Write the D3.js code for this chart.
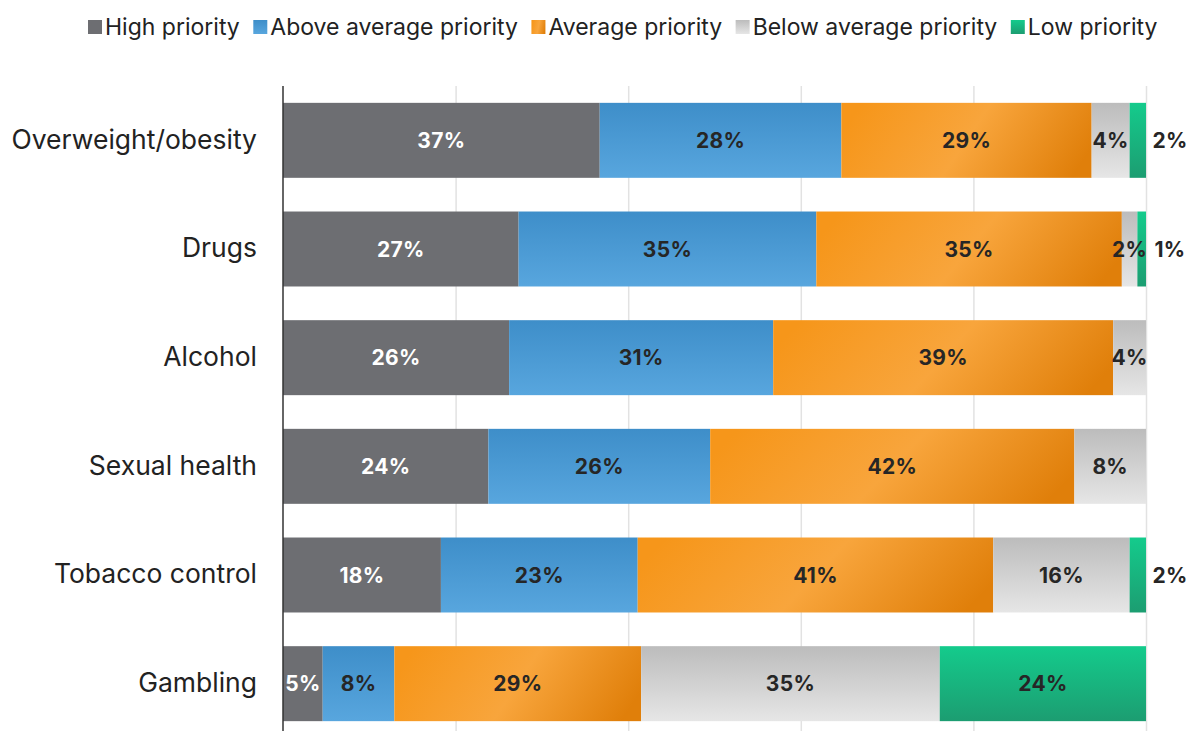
<!DOCTYPE html>
<html><head><meta charset="utf-8">
<script src="https://cdn.jsdelivr.net/npm/d3@7"></script>
<style>body{margin:0;background:#fff;font-family:Inter,"Noto Sans",sans-serif;}</style>
</head><body><svg id="c" width="1189" height="731"></svg>
<script>
const categories = ["Overweight/obesity","Drugs","Alcohol","Sexual health","Tobacco control","Gambling"];
const seriesNames = ["High priority","Above average priority","Average priority","Below average priority","Low priority"];
const highPriority = [36.7, 27.3, 26.2, 23.8, 18.3, 4.6];
const aboveAverage = [28.0, 34.5, 30.6, 25.7, 22.8, 8.3];
const averagePriority = [29.0, 35.4, 39.4, 42.2, 41.2, 28.6];
const belowAverage = [4.4, 1.8, 3.8, 8.3, 15.8, 34.6];
const lowPriority = [1.9, 1.0, 0, 0, 1.9, 23.9];
const xTicks = [0,20,40,60,80,100];

(function(){
const seriesValues = [highPriority, aboveAverage, averagePriority, belowAverage, lowPriority];
const svg = d3.select("#c");
const defs = svg.append("defs");
function lin(id, x1,y1,x2,y2, stops){
  const g = defs.append("linearGradient").attr("id",id).attr("x1",x1).attr("y1",y1).attr("x2",x2).attr("y2",y2);
  stops.forEach(s=>g.append("stop").attr("offset",s[0]).attr("stop-color",s[1]));
}
lin("gGray","0","0","0","1",[[0,"#6d6e72"],[1,"#6d6e72"]]);
lin("gBlue","0","0","0","1",[[0,"#3e8ec9"],[1,"#58a6de"]]);
lin("gOrange","0","0.4","1","0.6",[[0,"#f6961a"],[0.5,"#f8a53c"],[1,"#e07f0a"]]);
lin("gLight","0","0","0","1",[[0,"#bcbcbc"],[1,"#e6e6e6"]]);
lin("gGreen","0","0","0","1",[[0,"#14cb8c"],[1,"#1c9d71"]]);
const fills = ["url(#gGray)","url(#gBlue)","url(#gOrange)","url(#gLight)","url(#gGreen)"];

const mLeft = 283, mRight = 1146, mTop = 86, mBottom = 738;
const x = d3.scaleLinear().domain([0,100]).range([mLeft,mRight]);
const y = d3.scaleBand().domain(categories).range([mTop,mBottom]).paddingInner(0.31).paddingOuter(0.155);

svg.append("g").selectAll("line").data(xTicks.slice(1)).join("line")
  .attr("x1",d=>x(d)+0.5).attr("x2",d=>x(d)+0.5).attr("y1",86).attr("y2",731)
  .attr("stroke","#e2e2e2").attr("stroke-width",1.5);

const data = categories.map((c,i)=>{
  const o = {cat:c};
  seriesNames.forEach((s,j)=>o[s]=seriesValues[j][i]);
  return o;
});
const stack = d3.stack().keys(seriesNames)(data);

const gBars = svg.append("g");
stack.forEach((layer,j)=>{
  gBars.append("g").selectAll("rect").data(layer.filter(d=>d[1]-d[0]>0)).join("rect")
    .attr("x",d=>x(d[0])).attr("width",d=>x(d[1])-x(d[0]))
    .attr("y",d=>y(d.data.cat)).attr("height",y.bandwidth())
    .attr("fill",fills[j]);
});
stack.forEach((layer,j)=>{
  gBars.append("g").selectAll("text").data(layer.filter(d=>d[1]-d[0]>0)).join("text")
    .attr("x",d=>{
      const v=d[1]-d[0];
      if(j===4 && v<5) return x(100)+24;
      return (x(d[0])+x(d[1]))/2;
    })
    .attr("y",d=>y(d.data.cat)+y.bandwidth()/2)
    .attr("dy","0.36em").attr("text-anchor","middle")
    .attr("font-size",21).attr("font-weight",700).attr("letter-spacing","0.3px")
    .attr("fill",j===0?"#ffffff":"#262626")
    .text(d=>Math.round(d[1]-d[0])+"%");
});

const yAxis = svg.append("g").attr("transform",`translate(${mLeft},0)`)
  .call(d3.axisLeft(y).tickSize(0).tickPadding(26));
yAxis.select(".domain").remove();
yAxis.selectAll("text").attr("font-size",26.5).attr("fill","#222").attr("font-family","Inter,'Noto Sans',sans-serif");
svg.append("line").attr("x1",mLeft).attr("x2",mLeft).attr("y1",86).attr("y2",731)
  .attr("stroke","#333").attr("stroke-width",1.5);

const legend = svg.append("g").attr("font-size",23).attr("fill","#222");
let lx = 88;
const ly = 27;
seriesNames.forEach((s,j)=>{
  const g = legend.append("g").attr("transform",`translate(${lx},0)`);
  g.append("rect").attr("x",0).attr("y",ly-7).attr("width",14).attr("height",14).attr("fill",fills[j]);
  const t = g.append("text").attr("x",17).attr("y",ly).attr("dy","0.36em").text(s).attr("fill","#222");
  lx += 17 + t.node().getComputedTextLength() + 13.5;
});
})();
</script></body></html>
